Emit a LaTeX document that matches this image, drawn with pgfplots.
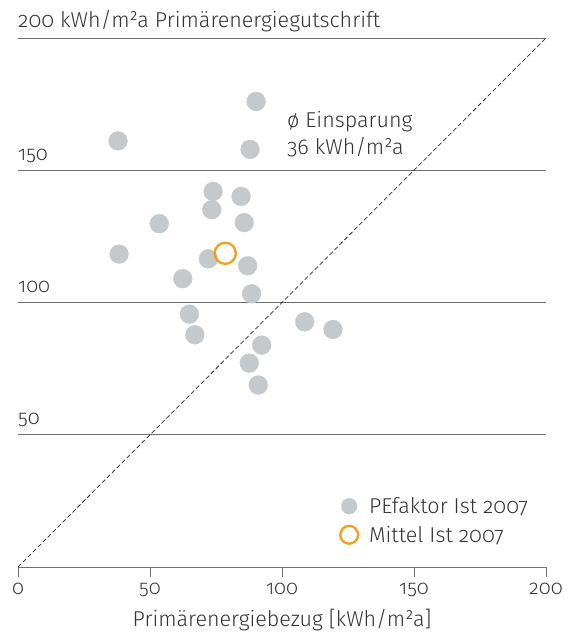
\documentclass[border=0pt]{standalone}
\usepackage{fontspec}
\setmainfont{Fira Sans}[UprightFont=* Light, Numbers=OldStyle]
\usepackage{pgfplots}
\pgfplotsset{compat=1.18}
\definecolor{dotgray}{HTML}{C5C9CC}
\definecolor{mittelorange}{HTML}{F0A020}
\definecolor{linegray}{HTML}{6E6E6E}
\definecolor{txt}{HTML}{333333}
\newcommand\lblfont{\fontsize{21.5bp}{26bp}\selectfont}
\newcommand\tckfont{\fontsize{20bp}{24bp}\selectfont}
\begin{document}
\begin{tikzpicture}
\useasboundingbox (-18bp,-68bp) rectangle (550bp,567bp);
\begin{axis}[
  scale only axis, width=528bp, height=529bp,
  xmin=0, xmax=200, ymin=0, ymax=200,
  axis x line=bottom, axis y line=left,
  x axis line style={linegray, line width=0.9pt, -},
  y axis line style={draw=none},
  xtick={0,50,100,150,200},
  tick align=outside, major tick length=10bp,
  xtick style={linegray, line width=0.9pt},
  ytick style={draw=none},
  ytick={50,100,150,200}, yticklabels={},
  ymajorgrids, grid style={linegray, line width=0.9pt},
  /pgf/number format/assume math mode=true,
  xticklabel style={font=\tckfont, text=txt, anchor=base, yshift=-17bp},
  xlabel={Primärenergiebezug [kWh/m²a]},
  xlabel style={font=\lblfont, text=txt, at={(axis description cs:0.5,0)}, anchor=base, yshift=-59bp},
  clip=false,
  legend style={at={(axis cs:122,8)}, anchor=south west, draw=none, fill=none,
    font=\lblfont, text=txt, row sep=7bp, inner sep=0pt},
  legend image post style={xshift=-2bp, /tikz/every mark/.append style={scale=0.84}},
  legend cell align=left,
]
\addplot[only marks, mark=*, mark size=9.4bp, dotgray, mark options={draw=dotgray, fill=dotgray}] table {
x y
90.2 176.0
37.9 161.1
87.9 157.9
73.9 142.0
84.5 140.1
73.4 135.1
53.5 129.8
85.7 130.2
38.3 118.3
72.1 116.5
87.0 113.9
62.4 109.0
88.5 103.3
64.9 95.6
67.0 87.8
108.6 92.7
119.3 89.8
92.3 83.9
87.6 77.1
91.0 68.8
};
\addlegendentry{\hspace{9bp}PEfaktor Ist 2007}
\addplot[only marks, mark=o, mark size=10.6bp, mark options={draw=mittelorange, line width=2.3bp}] coordinates {(78.5,118.6)};
\addlegendentry{\hspace{9bp}Mittel Ist 2007}
\addplot[black, line width=0.55pt, dash pattern=on 4.5bp off 2.5bp, forget plot] coordinates {(0,0) (200,200)};
\node[anchor=base west, font=\lblfont, text=txt, inner sep=0pt] at (axis cs:0,200) [yshift=10bp] {200 kWh/m²a Primärenergiegutschrift};
\node[anchor=base west, font=\tckfont, text=txt, inner sep=0pt] at (axis cs:0,150) [yshift=10bp] {150};
\node[anchor=base west, font=\tckfont, text=txt, inner sep=0pt] at (axis cs:0,100) [yshift=10bp] {100};
\node[anchor=base west, font=\tckfont, text=txt, inner sep=0pt] at (axis cs:0,50) [yshift=10bp] {50};
\node[anchor=base west, font=\lblfont, text=txt, inner sep=0pt] at (axis cs:101.9,166.0) {ø Einsparung};
\node[anchor=base west, font=\lblfont, text=txt, inner sep=0pt] at (axis cs:101.9,155.8) {36 kWh/m²a};
\end{axis}
\end{tikzpicture}
\end{document}
